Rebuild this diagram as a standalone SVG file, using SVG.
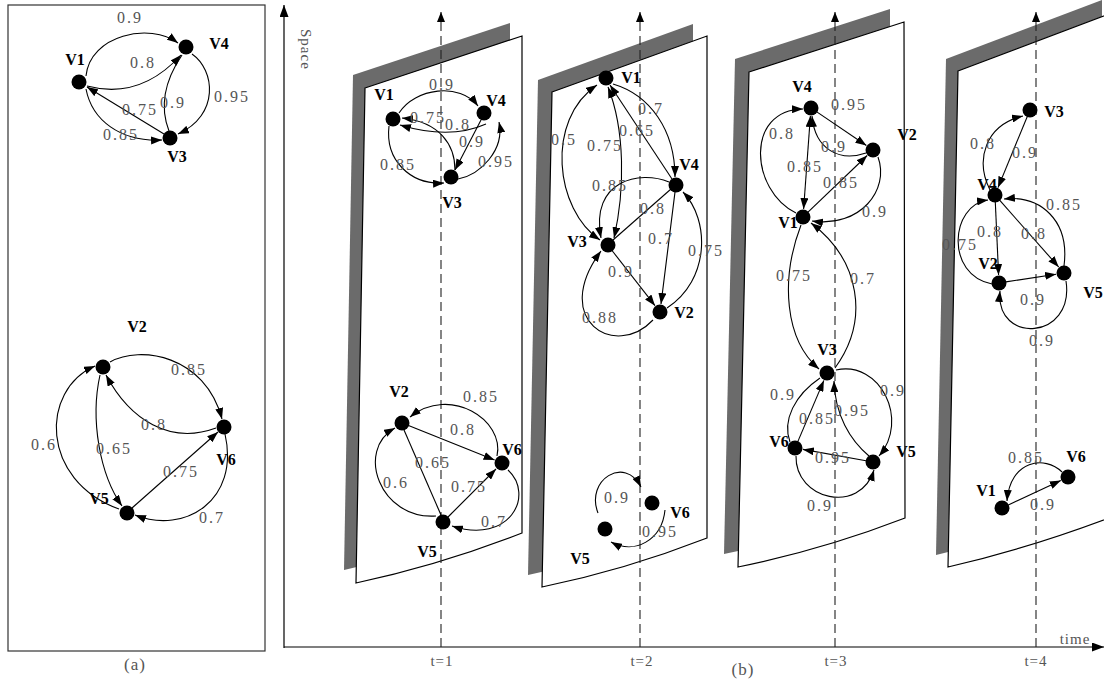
<svg xmlns="http://www.w3.org/2000/svg" width="1104" height="684" viewBox="0 0 1104 684">
<style>
.edge{fill:none;stroke:#000;stroke-width:1.1}
.arr{marker-end:url(#ah)}
.both{marker-start:url(#ah);marker-end:url(#ah)}
.lbl{font-family:"Liberation Serif",serif;font-size:16px;fill:#555;text-anchor:middle;letter-spacing:2px}
.nl{font-family:"Liberation Serif",serif;font-size:16px;font-weight:bold;fill:#000;text-anchor:middle}
.node circle{fill:#000}
.plane{fill:#fff;stroke:#000;stroke-width:1.2}
.shadow{fill:#6b6b6b}
.dash{stroke:#222;stroke-width:1.1;stroke-dasharray:9 5;fill:none}
.axis{stroke:#000;stroke-width:1.2;fill:none}
.cap{font-family:"Liberation Serif",serif;fill:#555;letter-spacing:1px}
</style>
<defs>
<marker id="ah" markerWidth="11" markerHeight="8" refX="11" refY="4" orient="auto-start-reverse" markerUnits="userSpaceOnUse"><path d="M0,0 L11,4 L0,8 Z" fill="#000"/></marker>
<marker id="ax" markerWidth="12" markerHeight="9" refX="12" refY="4.5" orient="auto" markerUnits="userSpaceOnUse"><path d="M0,0 L12,4.5 L0,9 Z" fill="#000"/></marker>
<marker id="dh" markerWidth="10" markerHeight="8" refX="10" refY="4" orient="auto" markerUnits="userSpaceOnUse"><path d="M0,0 L10,4 L0,8 Z" fill="#000"/></marker>
<path id="p1" d="M365,88 L522,36 L522,533 Q440,565 356,583 Z"/>
<path id="p2" d="M552,92 L707,36 L707,538 Q625,570 542,587 Z"/>
<path id="p3" d="M749,72 L904,22 L905,518 Q822,550 738,567 Z"/>
<path id="p4" d="M958,71 L1114,12 L1114,516 Q1030,548 948,567 Z"/>
</defs>
<rect width="1104" height="684" fill="#fff"/>

<!-- panel (a) frame -->
<rect x="8" y="5" width="257" height="646" fill="none" stroke="#333" stroke-width="1.2"/>
<text class="cap" x="135" y="670" font-size="17" text-anchor="middle">(a)</text>

<!-- axes -->
<g id="axes">
<line class="axis" x1="284" y1="648" x2="284" y2="5" marker-end="url(#ax)"/>
<line class="axis" x1="284" y1="647" x2="1104" y2="647" marker-end="url(#ax)"/>
<text class="cap" font-size="15" transform="translate(301,29) rotate(90)">Space</text>
<text class="cap" font-size="15" x="1075" y="644" text-anchor="middle">time</text>
<text class="cap" font-size="15" x="442" y="666" text-anchor="middle">t=1</text>
<text class="cap" font-size="15" x="642" y="666" text-anchor="middle">t=2</text>
<text class="cap" font-size="15" x="836" y="666" text-anchor="middle">t=3</text>
<text class="cap" font-size="15" x="1036" y="666" text-anchor="middle">t=4</text>
<text class="cap" font-size="17" x="743" y="675" text-anchor="middle">(b)</text>
</g>

<!-- planes -->
<g id="planes">
<use href="#p1" class="shadow" transform="translate(-12,-13)"/>
<use href="#p1" class="plane"/>
<use href="#p2" class="shadow" transform="translate(-14,-12)"/>
<use href="#p2" class="plane"/>
<use href="#p3" class="shadow" transform="translate(-14,-13)"/>
<use href="#p3" class="plane"/>
<use href="#p4" class="shadow" transform="translate(-12,-12)"/>
<use href="#p4" class="plane"/>
</g>

<!-- time lines -->
<g id="timelines">
<line class="dash" x1="441" y1="647" x2="441" y2="12" marker-end="url(#dh)"/>
<line class="dash" x1="640" y1="647" x2="640" y2="12" marker-end="url(#dh)"/>
<line class="dash" x1="835" y1="647" x2="835" y2="12" marker-end="url(#dh)"/>
<line class="dash" x1="1036" y1="647" x2="1036" y2="12" marker-end="url(#dh)"/>
</g>

<g id="connectors">
<!-- (a) top -->
<path class="edge arr" d="M86,76 C90,35 150,22 178,43"/>
<path class="edge arr" d="M87,86 Q140,100 181,55"/>
<path class="edge arr" d="M164,134 L87,87"/>
<path class="edge" d="M169,131 Q155,95 182,55"/>
<path class="edge arr" d="M192,54 C215,70 220,115 178,134"/>
<path class="edge arr" d="M86,89 C92,120 120,142 162,140"/>
<!-- (a) bottom -->
<path class="edge arr" d="M110,362 C140,345 205,355 222,419"/>
<path class="edge arr" d="M216,428 C170,445 130,420 106,375"/>
<path class="edge arr" d="M119,509 C40,480 40,390 95,366"/>
<path class="edge arr" d="M100,375 C90,420 100,475 122,506"/>
<path class="edge arr" d="M132,508 L218,432"/>
<path class="edge arr" d="M225,434 C240,500 185,535 135,515"/>
<!-- t=1 top -->
<path class="edge arr" d="M399,113 C415,88 460,82 478,106"/>
<path class="edge arr" d="M455,170 C455,145 440,122 402,118"/>
<path class="edge arr" d="M486,124 Q450,140 400,125"/>
<path class="edge arr" d="M481,120 L455,170"/>
<path class="edge arr" d="M458,179 C480,175 505,150 499,122"/>
<path class="edge arr" d="M389,126 C385,160 410,185 444,183"/>
<!-- t=1 bottom -->
<path class="edge arr" d="M497,456 C505,420 450,385 410,417"/>
<path class="edge arr" d="M408.5,425.6 L494.6,460"/>
<path class="edge arr" d="M436,516 C380,520 355,450 395,428"/>
<path class="edge" d="M404,430 L441,515"/>
<path class="edge arr" d="M448,517 L496,469"/>
<path class="edge arr" d="M508,470 C535,495 510,545 452,526"/>
<!-- t=2 top -->
<path class="edge both" d="M600,240 C555,210 545,120 597,85"/>
<path class="edge both" d="M608,87 C625,130 625,190 614,238"/>
<path class="edge arr" d="M672,179 L610,85"/>
<path class="edge arr" d="M613,84 C650,95 675,130 675,177"/>
<path class="edge arr" d="M669,182 C640,170 590,180 601,238"/>
<path class="edge" d="M613,240 L671,189"/>
<path class="edge arr" d="M675,192 L661,304"/>
<path class="edge arr" d="M667,308 C710,280 710,220 683,192"/>
<path class="edge arr" d="M612,250.5 L655,305.7"/>
<path class="edge arr" d="M653,320 C615,360 550,320 601,251"/>
<!-- t=2 bottom -->
<path class="edge arr" d="M598,513 C585,480 625,455 641,487"/>
<path class="edge arr" d="M665,510 C662,540 635,555 611,542"/>
<!-- t=3 -->
<path class="edge arr" d="M816.8,111.9 L866.4,145.5"/>
<path class="edge arr" d="M866,153 C840,162 815,150 812,116"/>
<path class="edge arr" d="M796,213 C750,190 745,110 803,109"/>
<path class="edge both" d="M803.6,209 L810.4,116"/>
<path class="edge arr" d="M808,212.2 L867.2,155.5"/>
<path class="edge arr" d="M878,157 C890,190 860,228 812,221"/>
<path class="edge arr" d="M801,225 C780,280 785,340 819,369"/>
<path class="edge arr" d="M835,368 C870,320 860,260 811,223"/>
<path class="edge" d="M820,378 C795,395 782,420 790,442"/>
<path class="edge arr" d="M797.8,441.6 L823.9,380.4"/>
<path class="edge arr" d="M869,456 C850,440 835,415 834,381"/>
<path class="edge arr" d="M836,370 C880,360 910,420 879,456"/>
<path class="edge arr" d="M866,460.8 L802.9,449.4"/>
<path class="edge arr" d="M796,456 C795,500 860,515 874,470"/>
<!-- t=4 -->
<path class="edge arr" d="M990,190 C975,160 985,125 1023,116"/>
<path class="edge arr" d="M1027.3,116.5 L998,187.6"/>
<path class="edge arr" d="M1064,266 C1070,220 1040,195 1004,199"/>
<path class="edge arr" d="M992,284 C945,275 950,205 988,200"/>
<path class="edge arr" d="M995.3,202 L998.6,275"/>
<path class="edge arr" d="M999.6,200.2 L1058.7,267"/>
<path class="edge arr" d="M1005.9,281.9 L1056.1,274.2"/>
<path class="edge arr" d="M1066,281 C1075,340 995,345 1000,291"/>
<path class="edge arr" d="M1062,472 C1045,455 1010,460 1007,501"/>
<path class="edge arr" d="M1008.3,505 L1060.8,480.4"/>
</g>

<g id="edge-labels">
<!-- (a) -->
<text class="lbl" x="130" y="23">0.9</text>
<text class="lbl" x="143" y="68">0.8</text>
<text class="lbl" x="140" y="115">0.75</text>
<text class="lbl" x="173" y="108">0.9</text>
<text class="lbl" x="232" y="102">0.95</text>
<text class="lbl" x="121" y="140">0.85</text>
<text class="lbl" x="189" y="375">0.85</text>
<text class="lbl" x="154" y="430">0.8</text>
<text class="lbl" x="44" y="450">0.6</text>
<text class="lbl" x="114" y="454">0.65</text>
<text class="lbl" x="181" y="477">0.75</text>
<text class="lbl" x="212" y="523">0.7</text>
<!-- t=1 -->
<text class="lbl" x="442" y="90">0.9</text>
<text class="lbl" x="428" y="123">0.75</text>
<text class="lbl" x="458" y="130">0.8</text>
<text class="lbl" x="472" y="147">0.9</text>
<text class="lbl" x="496" y="167">0.95</text>
<text class="lbl" x="398" y="170">0.85</text>
<text class="lbl" x="481" y="402">0.85</text>
<text class="lbl" x="463" y="435">0.8</text>
<text class="lbl" x="433" y="468">0.65</text>
<text class="lbl" x="396" y="488">0.6</text>
<text class="lbl" x="469" y="492">0.75</text>
<text class="lbl" x="494" y="527">0.7</text>
<!-- t=2 -->
<text class="lbl" x="564" y="145">0.5</text>
<text class="lbl" x="605" y="151">0.75</text>
<text class="lbl" x="637" y="136">0.65</text>
<text class="lbl" x="651" y="114">0.7</text>
<text class="lbl" x="610" y="191">0.85</text>
<text class="lbl" x="653" y="214">0.8</text>
<text class="lbl" x="661" y="244">0.7</text>
<text class="lbl" x="706" y="256">0.75</text>
<text class="lbl" x="621" y="277">0.9</text>
<text class="lbl" x="600" y="323">0.88</text>
<text class="lbl" x="617" y="503">0.9</text>
<text class="lbl" x="660" y="537">0.95</text>
<!-- t=3 -->
<text class="lbl" x="849" y="110">0.95</text>
<text class="lbl" x="834" y="152">0.9</text>
<text class="lbl" x="782" y="139">0.8</text>
<text class="lbl" x="805" y="172">0.85</text>
<text class="lbl" x="841" y="188">0.85</text>
<text class="lbl" x="875" y="217">0.9</text>
<text class="lbl" x="794" y="281">0.75</text>
<text class="lbl" x="863" y="284">0.7</text>
<text class="lbl" x="783" y="400">0.9</text>
<text class="lbl" x="817" y="424">0.85</text>
<text class="lbl" x="852" y="416">0.95</text>
<text class="lbl" x="893" y="396">0.9</text>
<text class="lbl" x="833" y="463">0.95</text>
<text class="lbl" x="820" y="511">0.9</text>
<!-- t=4 -->
<text class="lbl" x="983" y="149">0.8</text>
<text class="lbl" x="1025" y="158">0.9</text>
<text class="lbl" x="1064" y="210">0.85</text>
<text class="lbl" x="960" y="250">0.75</text>
<text class="lbl" x="990" y="237">0.8</text>
<text class="lbl" x="1034" y="239">0.8</text>
<text class="lbl" x="1033" y="305">0.9</text>
<text class="lbl" x="1042" y="346">0.9</text>
<text class="lbl" x="1026" y="463">0.85</text>
<text class="lbl" x="1043" y="510">0.9</text>
</g>

<!-- nodes (a) -->
<g id="a-V1" class="node"><circle cx="79" cy="82" r="7.5"/><text class="nl" x="75" y="65">V1</text></g>
<g id="a-V4" class="node"><circle cx="186" cy="47" r="7.5"/><text class="nl" x="219" y="49">V4</text></g>
<g id="a-V3" class="node"><circle cx="170" cy="138" r="7.5"/><text class="nl" x="177" y="162">V3</text></g>
<g id="a-V2" class="node"><circle cx="103" cy="367" r="7.5"/><text class="nl" x="137" y="332">V2</text></g>
<g id="a-V6" class="node"><circle cx="224" cy="427" r="7.5"/><text class="nl" x="226" y="465">V6</text></g>
<g id="a-V5" class="node"><circle cx="127" cy="513" r="7.5"/><text class="nl" x="99" y="504">V5</text></g>
<!-- nodes t=1 -->
<g id="t1-V1" class="node"><circle cx="393" cy="119" r="7.5"/><text class="nl" x="384" y="100">V1</text></g>
<g id="t1-V4" class="node"><circle cx="484" cy="113" r="7.5"/><text class="nl" x="496" y="106">V4</text></g>
<g id="t1-V3" class="node"><circle cx="451" cy="177" r="7.5"/><text class="nl" x="452" y="208">V3</text></g>
<g id="t1-V2" class="node"><circle cx="402" cy="423" r="7.5"/><text class="nl" x="399" y="397">V2</text></g>
<g id="t1-V6" class="node"><circle cx="502" cy="463" r="7.5"/><text class="nl" x="512" y="455">V6</text></g>
<g id="t1-V5" class="node"><circle cx="443" cy="522" r="7.5"/><text class="nl" x="427" y="557">V5</text></g>
<!-- nodes t=2 -->
<g id="t2-V1" class="node"><circle cx="606" cy="78" r="7.5"/><text class="nl" x="631" y="83">V1</text></g>
<g id="t2-V4" class="node"><circle cx="676" cy="185" r="7.5"/><text class="nl" x="689" y="170">V4</text></g>
<g id="t2-V3" class="node"><circle cx="608" cy="245" r="7.5"/><text class="nl" x="577" y="247">V3</text></g>
<g id="t2-V2" class="node"><circle cx="660" cy="312" r="7.5"/><text class="nl" x="684" y="318">V2</text></g>
<g id="t2-V6" class="node"><circle cx="652" cy="503" r="7.5"/><text class="nl" x="680" y="518">V6</text></g>
<g id="t2-V5" class="node"><circle cx="605" cy="529" r="7.5"/><text class="nl" x="580" y="564">V5</text></g>
<!-- nodes t=3 -->
<g id="t3-V4" class="node"><circle cx="811" cy="108" r="7.5"/><text class="nl" x="802" y="92">V4</text></g>
<g id="t3-V2" class="node"><circle cx="873" cy="150" r="7.5"/><text class="nl" x="907" y="140">V2</text></g>
<g id="t3-V1" class="node"><circle cx="803" cy="217" r="7.5"/><text class="nl" x="788" y="228">V1</text></g>
<g id="t3-V3" class="node"><circle cx="827" cy="373" r="7.5"/><text class="nl" x="827" y="355">V3</text></g>
<g id="t3-V6" class="node"><circle cx="795" cy="448" r="7.5"/><text class="nl" x="779" y="447">V6</text></g>
<g id="t3-V5" class="node"><circle cx="873" cy="462" r="7.5"/><text class="nl" x="906" y="457">V5</text></g>
<!-- nodes t=4 -->
<g id="t4-V3" class="node"><circle cx="1030" cy="110" r="7.5"/><text class="nl" x="1054" y="117">V3</text></g>
<g id="t4-V4" class="node"><circle cx="995" cy="195" r="7.5"/><text class="nl" x="987" y="190">V4</text></g>
<g id="t4-V2" class="node"><circle cx="999" cy="283" r="7.5"/><text class="nl" x="988" y="269">V2</text></g>
<g id="t4-V5" class="node"><circle cx="1064" cy="273" r="7.5"/><text class="nl" x="1093" y="298">V5</text></g>
<g id="t4-V1" class="node"><circle cx="1002" cy="508" r="7.5"/><text class="nl" x="986" y="496">V1</text></g>
<g id="t4-V6" class="node"><circle cx="1068" cy="477" r="7.5"/><text class="nl" x="1076" y="462">V6</text></g>
</svg>
